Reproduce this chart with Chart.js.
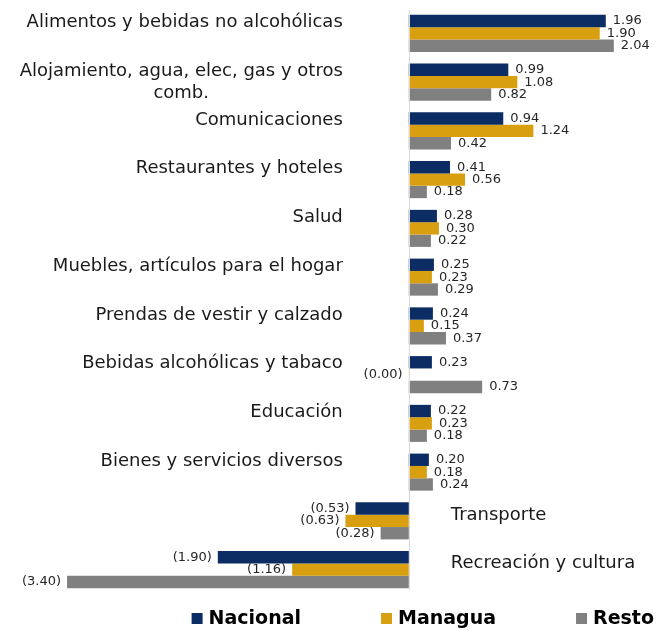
<!DOCTYPE html>
<html>
<head>
<meta charset="utf-8">
<script src="https://cdn.jsdelivr.net/npm/chart.js@4.4.0/dist/chart.umd.min.js"></script>
<style>
  html, body { margin: 0; padding: 0; background: #fff; }
  #chart { display: block; }
</style>
</head>
<body>
<canvas id="chart" width="657" height="630"></canvas>
<script>
const CATEGORIES = [
  'Alimentos y bebidas no alcohólicas',
  ['Alojamiento, agua, elec, gas y otros', 'comb.'],
  'Comunicaciones',
  'Restaurantes y hoteles',
  'Salud',
  'Muebles, artículos para el hogar',
  'Prendas de vestir y calzado',
  'Bebidas alcohólicas y tabaco',
  'Educación',
  'Bienes y servicios diversos',
  'Transporte',
  'Recreación y cultura',
];
const SERIES_NAMES = ['Nacional', 'Managua', 'Resto'];
const NACIONAL = [1.96, 0.99, 0.94, 0.41, 0.28, 0.25, 0.24, 0.23, 0.22, 0.20, -0.53, -1.90];
const MANAGUA = [1.90, 1.08, 1.24, 0.56, 0.30, 0.23, 0.15, -0.001, 0.23, 0.18, -0.63, -1.16];
const RESTO = [2.04, 0.82, 0.42, 0.18, 0.22, 0.29, 0.37, 0.73, 0.18, 0.24, -0.28, -3.40];
const COLORS = ['#0b2d64', '#d8a010', '#808080'];

const FONT = '"DejaVu Sans", Verdana, sans-serif';

function fmt(v) {
  const s = Math.abs(v).toFixed(2);
  return v < 0 ? `(${s})` : s;
}

// value labels, category labels, zero line and legend
const decorations = {
  id: 'decorations',
  afterDatasetsDraw(chart) {
    const { ctx, scales: { x, y }, chartArea } = chart;
    const x0 = x.getPixelForValue(0);

    ctx.save();
    ctx.strokeStyle = '#d9d9d9';
    ctx.lineWidth = 1;
    ctx.beginPath();
    ctx.moveTo(Math.round(x0) + 0.5, chartArea.top + 1);
    ctx.lineTo(Math.round(x0) + 0.5, chartArea.bottom - 4);
    ctx.stroke();

    // value labels
    ctx.font = `13px ${FONT}`;
    ctx.fillStyle = '#262626';
    ctx.textBaseline = 'middle';
    chart.data.datasets.forEach((ds, di) => {
      const meta = chart.getDatasetMeta(di);
      meta.data.forEach((bar, i) => {
        const v = ds.data[i];
        if (v < 0) {
          ctx.textAlign = 'right';
          ctx.fillText(fmt(v), Math.min(bar.x, x0) - 6, bar.y);
        } else {
          ctx.textAlign = 'left';
          ctx.fillText(fmt(v), bar.x + 7, bar.y);
        }
      });
    });

    // category labels
    ctx.font = `18px ${FONT}`;
    ctx.fillStyle = '#1a1a1a';
    const lineH = 22;
    CATEGORIES.forEach((label, i) => {
      const cy = y.getPixelForValue(i);
      const lines = Array.isArray(label) ? label : [label];
      if (NACIONAL[i] < 0) {
        ctx.textAlign = 'left';
        ctx.fillText(lines[0], x0 + 42, cy - 6);
        return;
      }
      const right = x0 - 66;
      const maxW = Math.max(...lines.map((l) => ctx.measureText(l).width));
      ctx.textAlign = 'center';
      lines.forEach((l, k) => {
        ctx.fillText(l, right - maxW / 2, cy - lineH / 2 + k * lineH);
      });
    });

    // legend
    ctx.font = `bold 19px ${FONT}`;
    ctx.textAlign = 'left';
    const box = 11, textGap = 6, itemGap = 80;
    const widths = SERIES_NAMES.map((n) => box + textGap + ctx.measureText(n).width);
    const total = widths.reduce((a, b) => a + b, 0) + itemGap * (widths.length - 1);
    let lx = chart.width - 3 - total;
    const ly = 618;
    SERIES_NAMES.forEach((n, k) => {
      ctx.fillStyle = COLORS[k];
      ctx.fillRect(lx, ly - 5, box, box);
      ctx.fillStyle = '#000';
      ctx.fillText(n, lx + box + textGap, ly + 1);
      lx += widths[k] + itemGap;
    });
    ctx.restore();
  },
};

new Chart(document.getElementById('chart'), {
  type: 'bar',
  data: {
    labels: CATEGORIES,
    datasets: [NACIONAL, MANAGUA, RESTO].map((d, k) => ({
      label: SERIES_NAMES[k],
      data: d,
      backgroundColor: COLORS[k],
      borderWidth: 0,
      barPercentage: 1,
      categoryPercentage: 0.76,
    })),
  },
  options: {
    indexAxis: 'y',
    responsive: false,
    animation: false,
    layout: { padding: { top: 9, bottom: 36, left: 57, right: 7 } },
    scales: {
      x: { type: 'linear', min: -3.5, max: 2.4, display: false },
      y: { type: 'category', display: false, offset: true },
    },
    plugins: {
      legend: { display: false },
      tooltip: { enabled: false },
    },
  },
  plugins: [decorations],
});
</script>
</body>
</html>
